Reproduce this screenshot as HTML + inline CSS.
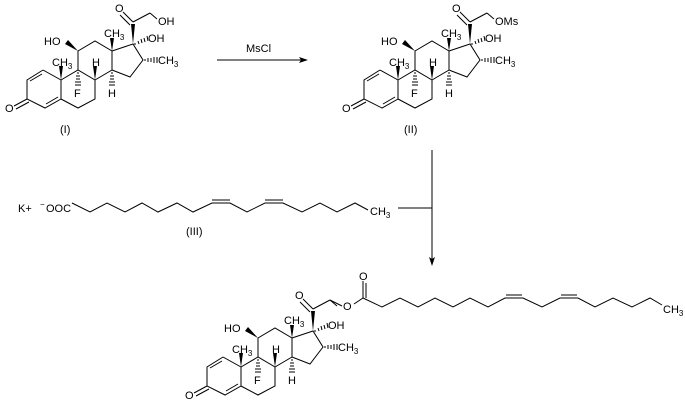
<!DOCTYPE html>
<html><head><meta charset="utf-8"><style>
body{margin:0;background:#fff}
svg{display:block}
text{font-family:"Liberation Sans",sans-serif;font-size:11px;fill:#000}
.s{font-size:8px}
</style></head><body>
<svg width="685" height="407" viewBox="0 0 685 407" xmlns="http://www.w3.org/2000/svg">
<defs>
<g id="core">
<g stroke="#000" stroke-width="1" fill="none">
<polyline points="43,70 27,80 27,99 45,108 61,99 61,80 43,70"/>
<line x1="42" y1="74" x2="30" y2="81"/>
<line x1="46" y1="104" x2="58" y2="97"/>
<line x1="27" y1="99" x2="14" y2="106"/>
<line x1="29" y1="102" x2="16" y2="109"/>
<polyline points="61,80 78,70 95,80 95,99 78,108 61,99"/>
<polyline points="78,70 78,51 95,41 112,51 112,70 95,80"/>
<polyline points="112,51 133,44 143,60 130,77 112,70"/>
<line x1="133" y1="22" x2="123" y2="12"/>
<line x1="130" y1="25" x2="120" y2="15"/>
<line x1="133" y1="22" x2="150" y2="13"/>
<line x1="150" y1="13" x2="157" y2="19"/>
<g stroke-width="1">
<line x1="135" y1="43" x2="135" y2="45"/><line x1="138" y1="41" x2="139" y2="44"/><line x1="141" y1="39" x2="142" y2="43"/><line x1="144" y1="38" x2="145" y2="42"/><line x1="147" y1="36" x2="148" y2="41"/>
<line x1="145" y1="59" x2="145" y2="61"/><line x1="148" y1="58" x2="148" y2="62"/><line x1="151" y1="58" x2="151" y2="62"/><line x1="154" y1="57" x2="154" y2="63"/><line x1="157" y1="57" x2="157" y2="63"/>
<line x1="77" y1="73" x2="79" y2="73"/><line x1="76" y1="76" x2="80" y2="76"/><line x1="76" y1="79" x2="80" y2="79"/><line x1="75" y1="82" x2="81" y2="82"/><line x1="75" y1="85" x2="81" y2="85"/>
<line x1="111" y1="73" x2="113" y2="73"/><line x1="110" y1="76" x2="114" y2="76"/><line x1="110" y1="79" x2="114" y2="79"/><line x1="109" y1="82" x2="115" y2="82"/><line x1="109" y1="85" x2="115" y2="85"/>
</g>
</g>
<g fill="#000">
<polygon points="133,44 131,24 135,24"/>
<polygon points="112,51 110,38 114,38"/>
<polygon points="78,51 65,44 68,40"/>
<polygon points="61,80 59,66 63,66"/>
<polygon points="95,80 93,66 97,66"/>
</g>
<text x="5" y="112">O</text>
<text x="115" y="12">O</text>
<text x="44" y="45">HO</text>
<text x="104" y="37">CH<tspan class="s" dy="3">3</tspan></text>
<text x="148" y="42">OH</text>
<text x="158" y="64">CH<tspan class="s" dy="3">3</tspan></text>
<text x="52" y="66">CH<tspan class="s" dy="3">3</tspan></text>
<text x="74" y="97">F</text>
<text x="92" y="66">H</text>
<text x="108" y="97">H</text>
</g>
</defs>

<use href="#core"/>
<text x="158" y="25">OH</text>
<text x="60" y="133">(I)</text>

<line x1="217" y1="60" x2="302" y2="60" stroke="#000"/>
<polygon points="308,60 299,57 301,60 299,63" fill="#000"/>
<text x="246" y="52">MsCl</text>

<g transform="translate(337,0)">
<use href="#core"/>
<text x="158" y="25">OMs</text>
<text x="67" y="133">(II)</text>
</g>

<text x="18" y="212">K+</text>
<text x="40" y="207" class="s">−</text>
<text x="46" y="212">OOC</text>
<polyline fill="none" stroke="#000" points="72,203 90,212 107,203 125,212 142,203 158,212 177,203 193,212 212,203 230,203 247,212 265,203 283,203 302,212 320,203 337,212 355,203 368,210"/>
<line x1="212" y1="200" x2="230" y2="200" stroke="#000"/>
<line x1="265" y1="200" x2="283" y2="200" stroke="#000"/>
<text x="370" y="215">CH<tspan class="s" dy="3">3</tspan></text>
<text x="186" y="235">(III)</text>

<line x1="432" y1="150" x2="432" y2="259" stroke="#000"/>
<polygon points="432,266 429,257 432,259 435,257" fill="#000"/>
<line x1="398" y1="208" x2="432" y2="208" stroke="#000"/>

<g transform="translate(180,287)">
<use href="#core"/>
</g>
<g stroke="#000" fill="none">
<line x1="330" y1="300" x2="342" y2="306"/>
<line x1="354" y1="304" x2="363" y2="298"/>
<line x1="363" y1="298" x2="363" y2="281"/>
<line x1="366" y1="298" x2="366" y2="283"/>
<polyline points="363,298 382,307 400,298 418,307 435,298 453,307 470,298 488,307 505,298 523,298 542,307 560,298 578,298 595,307 613,298 632,307 650,298 662,305"/>
<line x1="506" y1="295" x2="522" y2="295"/>
<line x1="561" y1="295" x2="577" y2="295"/>
</g>
<text x="343" y="310">O</text>
<text x="359" y="280">O</text>
<text x="663" y="313">CH<tspan class="s" dy="3">3</tspan></text>
</svg>
</body></html>
